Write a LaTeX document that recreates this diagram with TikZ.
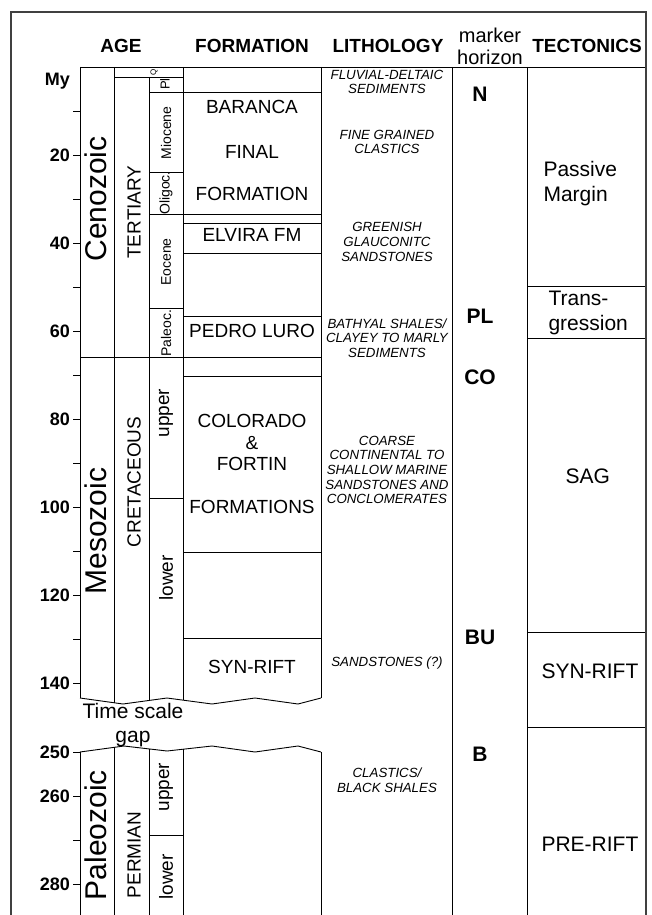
\documentclass[tikz,border=0pt]{standalone}
\usepackage{fontspec}
\setmainfont{Liberation Sans}
\usepackage{tikz}

\tikzset{
  ln/.style={line width=0.9pt},
  hdr/.style={font=\bfseries\fontsize{19}{22}\selectfont},
  era/.style={rotate=90,font=\fontsize{30}{34}\selectfont},
  period/.style={rotate=90,font=\fontsize{19}{22}\selectfont},
  epoch/.style={rotate=90,font=\fontsize{14}{16}\selectfont},
  fm/.style={font=\fontsize{19}{22}\selectfont},
  litho/.style={align=center,inner sep=0pt,font=\itshape\fontsize{13.3}{14.7}\selectfont},
  hzn/.style={font=\bfseries\fontsize{21}{24}\selectfont},
  tect/.style={align=left,anchor=west,font=\fontsize{21}{25}\selectfont},
  tlabel/.style={anchor=east,inner sep=1pt,font=\bfseries\fontsize{18}{20}\selectfont},
}

\begin{document}
\begin{tikzpicture}[x=1pt,y=-1pt]
    \useasboundingbox (0,0) rectangle (652,915);
    \draw[line width=1.3pt,black!75] (11,916) -- (11,12) -- (646,12) -- (646,916);

    % headers
    \node[hdr] (hAge) at (121,46) {AGE};
    \node[hdr] (hForm) at (252,46) {FORMATION};
    \node[hdr] (hLith) at (388,46) {LITHOLOGY};
    \node[font=\fontsize{20}{22}\selectfont,align=center] (hMark) at (490,46) {marker\\horizon};
    \node[hdr] (hTect) at (587,46) {TECTONICS};

    % columns
    \draw[ln] (80,67) -- (645,67);
    \draw[ln] (80,67) -- (80,698) (80,752) -- (80,916);
    \draw[ln] (114,67) -- (114,703) (114,747) -- (114,916);
    \draw[ln] (149,77) -- (149,700.5) (149,749) -- (149,916);
    \draw[ln] (183,67) -- (183,700) (183,749) -- (183,916);
    \draw[ln] (321,67) -- (321,698) (321,752) -- (321,916);
    \draw[ln] (452,67) -- (452,916) (527,67) -- (527,916);

    % time breaks
    \draw[ln] (80,698) -- (123,704) -- (167,698) -- (212,704) -- (255,698) -- (298,704) -- (321,698);
    \draw[ln] (80,752) -- (124,746) -- (167,751) -- (212,746) -- (255,752) -- (298,746) -- (321,752);

    % time axis
    \node[tlabel] (my) at (71,81) {My};
    \foreach \m in {10,20,...,140}
        \draw[ln] (73,{67+4.4*\m}) -- (80,{67+4.4*\m});
    \foreach \m in {20,40,...,140}
        \node[tlabel] (t\m) at (71,{67+4.4*\m}) {\m};
    \foreach \m in {250,260,270,280}
        \draw[ln] (73,{752+4.4*(\m-250)}) -- (80,{752+4.4*(\m-250)});
    \foreach \m in {250,260,280}
        \node[tlabel] (t\m) at (71,{752+4.4*(\m-250)}) {\m};

    % age boundaries
    \draw[ln] (114,77) -- (183,77);
    \draw[ln] (149,92) -- (321,92);
    \draw[ln] (149,172) -- (183,172);
    \draw[ln] (149,214) -- (321,214);
    \draw[ln] (183,223) -- (321,223);
    \draw[ln] (183,253) -- (321,253);
    \draw[ln] (149,308) -- (183,308);
    \draw[ln] (183,316) -- (321,316);
    \draw[ln] (80,357) -- (321,357);
    \draw[ln] (183,376) -- (321,376);
    \draw[ln] (149,498) -- (183,498);
    \draw[ln] (183,552) -- (321,552);
    \draw[ln] (183,638) -- (321,638);
    \draw[ln] (149,835) -- (183,835);

    % eras, periods, epochs
    \node[era] (cenozoic) at (96,199) {Cenozoic};
    \node[era] (mesozoic) at (96,531) {Mesozoic};
    \node[era] (paleozoic) at (96,835) {Paleozoic};
    \node[period] (tertiary) at (134,212) {TERTIARY};
    \node[period] (cretaceous) at (134,482) {CRETACEOUS};
    \node[period] (permian) at (134,855) {PERMIAN};
    \node[rotate=90,inner sep=0pt,font=\fontsize{8}{9}\selectfont] (quat) at (154,72) {Q};
    \node[rotate=90,inner sep=0pt,font=\fontsize{13}{14}\selectfont] (plio) at (165,84) {Pl};
    \node[epoch] (mioc) at (166,133) {Miocene};
    \node[epoch,inner sep=0pt] (olig) at (166,193) {Oligoc.};
    \node[epoch] (eoc) at (166,262) {Eocene};
    \node[epoch] (paleoc) at (166,333) {Paleoc.};
    \node[period] (kUp) at (166,413) {upper};
    \node[period] (kLow) at (166,578) {lower};
    \node[period] (pUp) at (166,787) {upper};
    \node[period] (pLow) at (166,877) {lower};
    \node[font=\fontsize{21}{24}\selectfont,align=center] (gap) at (133,725) {Time scale\\gap};

    % formations
    \node[fm] (baranca) at (252,107) {BARANCA};
    \node[fm] (final) at (252,152) {FINAL};
    \node[fm] (bfForm) at (252,194) {FORMATION};
    \node[fm] (elvira) at (252,235) {ELVIRA FM};
    \node[fm] (pedro) at (252,331) {PEDRO LURO};
    \node[fm] (colorado) at (252,421) {COLORADO};
    \node[fm] (amp) at (252,443) {\&};
    \node[fm] (fortin) at (252,464) {FORTIN};
    \node[fm] (cfForm) at (252,507) {FORMATIONS};
    \node[fm] (synFm) at (252,667) {SYN-RIFT};

    % lithology
    \node[litho] (l1) at (387,82) {FLUVIAL-DELTAIC\\SEDIMENTS};
    \node[litho] (l2) at (387,142) {FINE GRAINED\\CLASTICS};
    \node[litho] (l3) at (387,242) {GREENISH\\GLAUCONITC\\SANDSTONES};
    \node[litho] (l4) at (387,338) {BATHYAL SHALES/\\CLAYEY TO MARLY\\SEDIMENTS};
    \node[litho] (l5) at (387,470) {COARSE\\CONTINENTAL TO\\SHALLOW MARINE\\SANDSTONES AND\\CONCLOMERATES};
    \node[litho] (l6) at (387,663) {SANDSTONES (?)};
    \node[litho] (l7) at (387,780) {CLASTICS/\\BLACK SHALES};

    % marker horizons
    \node[hzn] (mN) at (480,94) {N};
    \node[hzn] (mPL) at (480,316) {PL};
    \node[hzn] (mCO) at (480,377) {CO};
    \node[hzn] (mBU) at (480,637) {BU};
    \node[hzn] (mB) at (480,754) {B};

    % tectonics
    \draw[ln] (527,286) -- (645,286) (527,338) -- (645,338);
    \draw[ln] (527,632) -- (645,632) (527,727) -- (645,727);
    \node[tect] (passive) at (540,184) {Passive\\Margin};
    \node[tect] (trans) at (545,313) {Trans-\\gression};
    \node[tect] (sag) at (562,476) {SAG};
    \node[tect] (synT) at (538,671) {SYN-RIFT};
    \node[tect] (pre) at (538,844) {PRE-RIFT};
\end{tikzpicture}
\end{document}
